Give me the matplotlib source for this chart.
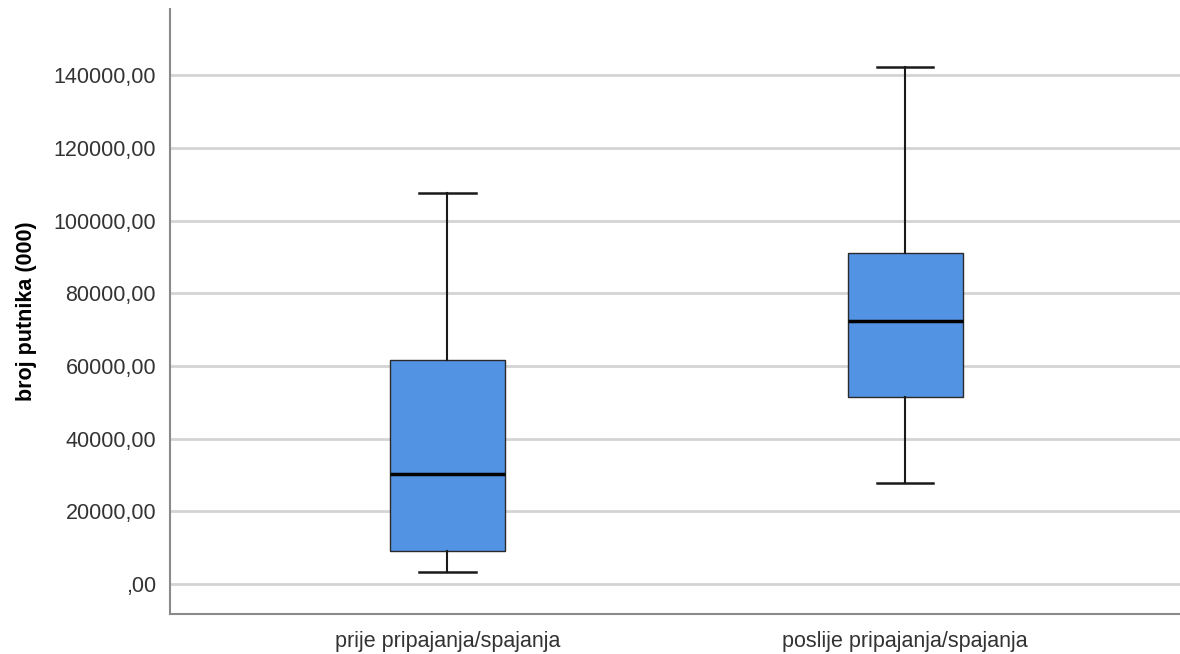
import matplotlib
matplotlib.use('Agg')
import matplotlib.pyplot as plt
from matplotlib.ticker import FuncFormatter

# data (values in 000 passengers)
groups = ['prije pripajanja/spajanja', 'poslije pripajanja/spajanja']
whisker_low = [3200, 27900]
q1 = [9200, 51600]
median = [30200, 72500]
q3 = [61700, 91200]
whisker_high = [107600, 142400]
y_ticks = [0, 20000, 40000, 60000, 80000, 100000, 120000, 140000]

plt.rcParams['font.family'] = ['Liberation Sans', 'DejaVu Sans']

fig = plt.figure(figsize=(11.8, 6.54), dpi=100)
ax = fig.add_axes([170 / 1180, 40 / 654, 1010 / 1180, 605 / 654])

stats = []
for i in range(len(groups)):
    stats.append({'whislo': whisker_low[i], 'q1': q1[i], 'med': median[i],
                  'q3': q3[i], 'whishi': whisker_high[i], 'fliers': [],
                  'label': groups[i]})

ax.bxp(stats, positions=[1, 2], widths=0.252, patch_artist=True,
       showfliers=False,
       boxprops=dict(facecolor='#5393e3', edgecolor='#2a2a2a', linewidth=1.0),
       medianprops=dict(color='black', linewidth=2.5),
       whiskerprops=dict(color='#1a1a1a', linewidth=1.5),
       capprops=dict(color='#1a1a1a', linewidth=1.8),
       capwidths=0.123, zorder=3)

ax.set_xlim(0.394, 2.6)
ax.set_ylim(-8260, 158300)
ax.set_yticks(y_ticks)
ax.yaxis.set_major_formatter(FuncFormatter(
    lambda v, p: ',00' if v == 0 else f'{int(v)},00'))
ax.grid(axis='y', color='#d4d4d4', linewidth=2, zorder=0)
ax.set_axisbelow(True)

for s in ['top', 'right']:
    ax.spines[s].set_visible(False)
for s in ['left', 'bottom']:
    ax.spines[s].set_color('#8a8a8a')
    ax.spines[s].set_linewidth(1.5)

ax.tick_params(axis='both', length=0, labelsize=15.5, colors='#333333')
ax.tick_params(axis='y', pad=10)
ax.tick_params(axis='x', pad=12)
ax.set_ylabel('broj putnika (000)', fontsize=15.5, fontweight='bold',
              color='black', labelpad=12)

fig.savefig('out.png', dpi=100)
